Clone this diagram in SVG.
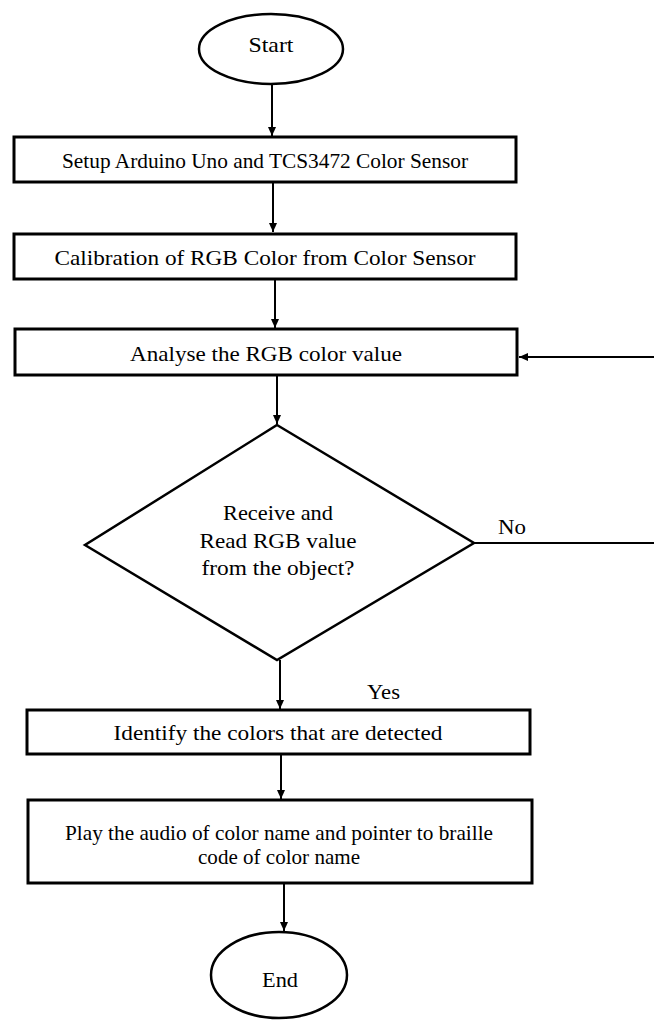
<svg xmlns="http://www.w3.org/2000/svg" width="654" height="1023" viewBox="0 0 654 1023">
<style>
.box{fill:#fff;stroke:#000;stroke-width:3}
.term{fill:#fff;stroke:#000;stroke-width:2.5}
.dia{fill:#fff;stroke:#000;stroke-width:2.5}
.t{font-family:"Liberation Serif","Times New Roman",serif;font-size:22px;fill:#000;text-anchor:middle}
.lbl{font-family:"Liberation Serif","Times New Roman",serif;font-size:22px;fill:#000}
.c{fill:none;stroke:#000;stroke-width:2}
</style>
<defs>
<marker id="ah" markerWidth="10" markerHeight="10" refX="9" refY="5" orient="auto" markerUnits="userSpaceOnUse">
<path d="M0,1 L9,5 L0,9 Z" fill="#000"/>
</marker>
</defs>
<rect width="654" height="1023" fill="#fff"/>
<g id="connectors">
<line class="c" x1="272" y1="84" x2="272" y2="136" marker-end="url(#ah)"/>
<line class="c" x1="273" y1="183" x2="273" y2="232" marker-end="url(#ah)"/>
<line class="c" x1="275" y1="279" x2="275" y2="328" marker-end="url(#ah)"/>
<line class="c" x1="277" y1="375" x2="277" y2="424" marker-end="url(#ah)"/>
<line class="c" x1="280" y1="660" x2="280" y2="709" marker-end="url(#ah)"/>
<line class="c" x1="281" y1="754" x2="281" y2="799" marker-end="url(#ah)"/>
<line class="c" x1="284" y1="883" x2="284" y2="931" marker-end="url(#ah)"/>
<line class="c" x1="474" y1="543" x2="654" y2="543"/>
<line class="c" x1="654" y1="357" x2="519" y2="357" marker-end="url(#ah)"/>
<text class="lbl" x="498" y="534" textLength="28" lengthAdjust="spacingAndGlyphs">No</text>
<text class="lbl" x="367" y="699" textLength="33" lengthAdjust="spacingAndGlyphs">Yes</text>
</g>
<g id="start">
<ellipse class="term" cx="271" cy="49" rx="72" ry="35"/>
<text class="t" x="271" y="52" textLength="45" lengthAdjust="spacingAndGlyphs">Start</text>
</g>
<g id="setup">
<rect class="box" x="14" y="137" width="502" height="45"/>
<text class="t" x="265" y="168" textLength="406" lengthAdjust="spacingAndGlyphs">Setup Arduino Uno and TCS3472 Color Sensor</text>
</g>
<g id="calibration">
<rect class="box" x="14" y="234" width="502" height="45"/>
<text class="t" x="265" y="265" textLength="421" lengthAdjust="spacingAndGlyphs">Calibration of RGB Color from Color Sensor</text>
</g>
<g id="analyse">
<rect class="box" x="15" y="329" width="502" height="46"/>
<text class="t" x="266" y="361" textLength="272" lengthAdjust="spacingAndGlyphs">Analyse the RGB color value</text>
</g>
<g id="decision">
<polygon class="dia" points="277,425 474,543 277,660 85,545"/>
<text class="t" x="278" y="520" textLength="110" lengthAdjust="spacingAndGlyphs">Receive and</text>
<text class="t" x="278" y="548" textLength="157" lengthAdjust="spacingAndGlyphs">Read RGB value</text>
<text class="t" x="278" y="575" textLength="153" lengthAdjust="spacingAndGlyphs">from the object?</text>
</g>
<g id="identify">
<rect class="box" x="27" y="710" width="503" height="44"/>
<text class="t" x="278" y="740" textLength="329" lengthAdjust="spacingAndGlyphs">Identify the colors that are detected</text>
</g>
<g id="play">
<rect class="box" x="28" y="800" width="504" height="83"/>
<text class="t" x="279" y="840" textLength="428" lengthAdjust="spacingAndGlyphs">Play the audio of color name and pointer to braille</text>
<text class="t" x="279" y="864" textLength="162" lengthAdjust="spacingAndGlyphs">code of color name</text>
</g>
<g id="end">
<ellipse class="term" cx="279" cy="975" rx="68" ry="43"/>
<text class="t" x="280" y="987" textLength="36" lengthAdjust="spacingAndGlyphs">End</text>
</g>
</svg>
